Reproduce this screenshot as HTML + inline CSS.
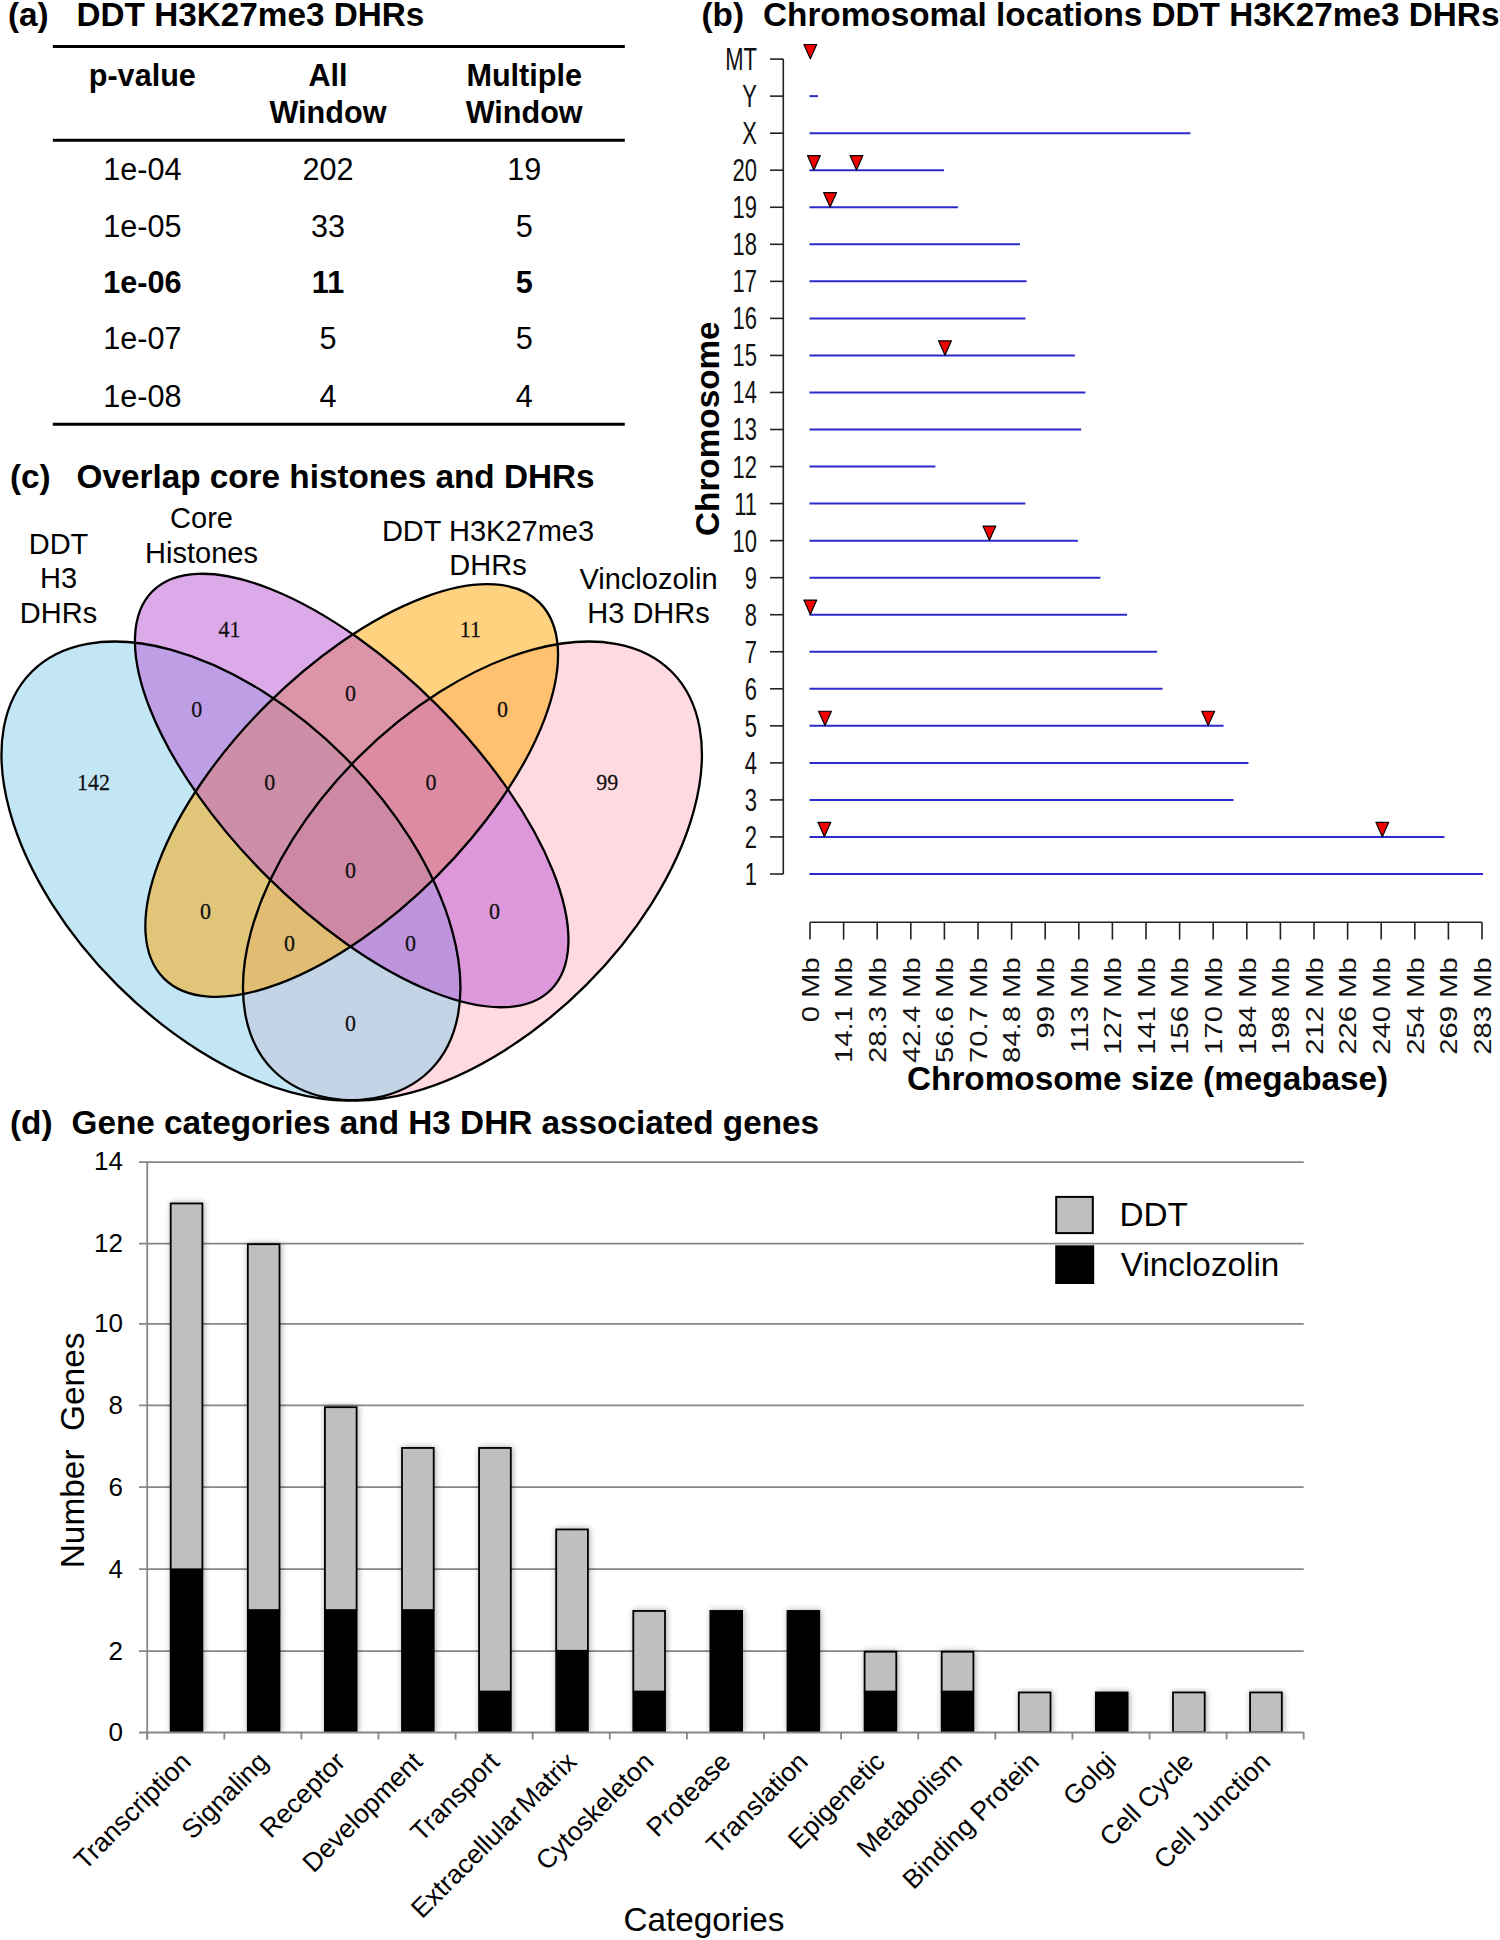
<!DOCTYPE html>
<html><head><meta charset="utf-8"><title>Figure</title>
<style>
html,body{margin:0;padding:0;background:#fff;}
body{width:1500px;height:1940px;overflow:hidden;font-family:"Liberation Sans",sans-serif;}
svg{display:block;}
text{font-family:"Liberation Sans",sans-serif;}
.serif{font-family:"Liberation Serif",serif;}
</style></head><body>
<svg width="1500" height="1940" viewBox="0 0 1500 1940">
<rect width="1500" height="1940" fill="#fff"/>

<text x="8" y="25.6" font-size="33.3" font-weight="bold">(a)</text>
<text x="76.5" y="25.6" font-size="33.3" font-weight="bold">DDT H3K27me3 DHRs</text>
<line x1="52.8" y1="46.5" x2="624.8" y2="46.5" stroke="#000" stroke-width="3"/>
<line x1="52.8" y1="140.25" x2="624.8" y2="140.25" stroke="#000" stroke-width="3"/>
<line x1="52.8" y1="424.25" x2="624.8" y2="424.25" stroke="#000" stroke-width="3"/>
<text x="142.3" y="86.3" font-size="30.6" font-weight="bold" text-anchor="middle">p-value</text>
<text x="328" y="86.3" font-size="30.6" font-weight="bold" text-anchor="middle">All</text>
<text x="328" y="122.7" font-size="30.6" font-weight="bold" text-anchor="middle">Window</text>
<text x="524.2" y="86.3" font-size="30.6" font-weight="bold" text-anchor="middle">Multiple</text>
<text x="524.2" y="122.7" font-size="30.6" font-weight="bold" text-anchor="middle">Window</text>
<text x="142.3" y="180.2" font-size="30.6" text-anchor="middle">1e-04</text>
<text x="328" y="180.2" font-size="30.6" text-anchor="middle">202</text>
<text x="524.2" y="180.2" font-size="30.6" text-anchor="middle">19</text>
<text x="142.3" y="237.3" font-size="30.6" text-anchor="middle">1e-05</text>
<text x="328" y="237.3" font-size="30.6" text-anchor="middle">33</text>
<text x="524.2" y="237.3" font-size="30.6" text-anchor="middle">5</text>
<text x="142.3" y="293.3" font-size="30.6" text-anchor="middle" font-weight="bold">1e-06</text>
<text x="328" y="293.3" font-size="30.6" text-anchor="middle" font-weight="bold">11</text>
<text x="524.2" y="293.3" font-size="30.6" text-anchor="middle" font-weight="bold">5</text>
<text x="142.3" y="349.3" font-size="30.6" text-anchor="middle">1e-07</text>
<text x="328" y="349.3" font-size="30.6" text-anchor="middle">5</text>
<text x="524.2" y="349.3" font-size="30.6" text-anchor="middle">5</text>
<text x="142.3" y="406.5" font-size="30.6" text-anchor="middle">1e-08</text>
<text x="328" y="406.5" font-size="30.6" text-anchor="middle">4</text>
<text x="524.2" y="406.5" font-size="30.6" text-anchor="middle">4</text>
<text x="701.5" y="26.1" font-size="33.3" font-weight="bold">(b)</text>
<text x="763" y="26.1" font-size="33.3" font-weight="bold">Chromosomal locations DDT H3K27me3 DHRs</text>
<line x1="783.3" y1="59.1" x2="783.3" y2="874.0" stroke="#222" stroke-width="1.6"/>
<line x1="770" y1="59.10" x2="783.3" y2="59.10" stroke="#222" stroke-width="1.6"/>
<text transform="translate(757,70.07) scale(1,1.45)" font-size="22" text-anchor="end" fill="#111">MT</text>
<line x1="770" y1="96.14" x2="783.3" y2="96.14" stroke="#222" stroke-width="1.6"/>
<text transform="translate(757,107.11) scale(1,1.45)" font-size="22" text-anchor="end" fill="#111">Y</text>
<line x1="770" y1="133.18" x2="783.3" y2="133.18" stroke="#222" stroke-width="1.6"/>
<text transform="translate(757,144.16) scale(1,1.45)" font-size="22" text-anchor="end" fill="#111">X</text>
<line x1="770" y1="170.22" x2="783.3" y2="170.22" stroke="#222" stroke-width="1.6"/>
<text transform="translate(757,181.20) scale(1,1.45)" font-size="22" text-anchor="end" fill="#111">20</text>
<line x1="770" y1="207.26" x2="783.3" y2="207.26" stroke="#222" stroke-width="1.6"/>
<text transform="translate(757,218.24) scale(1,1.45)" font-size="22" text-anchor="end" fill="#111">19</text>
<line x1="770" y1="244.30" x2="783.3" y2="244.30" stroke="#222" stroke-width="1.6"/>
<text transform="translate(757,255.28) scale(1,1.45)" font-size="22" text-anchor="end" fill="#111">18</text>
<line x1="770" y1="281.35" x2="783.3" y2="281.35" stroke="#222" stroke-width="1.6"/>
<text transform="translate(757,292.32) scale(1,1.45)" font-size="22" text-anchor="end" fill="#111">17</text>
<line x1="770" y1="318.39" x2="783.3" y2="318.39" stroke="#222" stroke-width="1.6"/>
<text transform="translate(757,329.36) scale(1,1.45)" font-size="22" text-anchor="end" fill="#111">16</text>
<line x1="770" y1="355.43" x2="783.3" y2="355.43" stroke="#222" stroke-width="1.6"/>
<text transform="translate(757,366.40) scale(1,1.45)" font-size="22" text-anchor="end" fill="#111">15</text>
<line x1="770" y1="392.47" x2="783.3" y2="392.47" stroke="#222" stroke-width="1.6"/>
<text transform="translate(757,403.44) scale(1,1.45)" font-size="22" text-anchor="end" fill="#111">14</text>
<line x1="770" y1="429.51" x2="783.3" y2="429.51" stroke="#222" stroke-width="1.6"/>
<text transform="translate(757,440.48) scale(1,1.45)" font-size="22" text-anchor="end" fill="#111">13</text>
<line x1="770" y1="466.55" x2="783.3" y2="466.55" stroke="#222" stroke-width="1.6"/>
<text transform="translate(757,477.52) scale(1,1.45)" font-size="22" text-anchor="end" fill="#111">12</text>
<line x1="770" y1="503.59" x2="783.3" y2="503.59" stroke="#222" stroke-width="1.6"/>
<text transform="translate(757,514.56) scale(1,1.45)" font-size="22" text-anchor="end" fill="#111">11</text>
<line x1="770" y1="540.63" x2="783.3" y2="540.63" stroke="#222" stroke-width="1.6"/>
<text transform="translate(757,551.61) scale(1,1.45)" font-size="22" text-anchor="end" fill="#111">10</text>
<line x1="770" y1="577.67" x2="783.3" y2="577.67" stroke="#222" stroke-width="1.6"/>
<text transform="translate(757,588.65) scale(1,1.45)" font-size="22" text-anchor="end" fill="#111">9</text>
<line x1="770" y1="614.71" x2="783.3" y2="614.71" stroke="#222" stroke-width="1.6"/>
<text transform="translate(757,625.69) scale(1,1.45)" font-size="22" text-anchor="end" fill="#111">8</text>
<line x1="770" y1="651.75" x2="783.3" y2="651.75" stroke="#222" stroke-width="1.6"/>
<text transform="translate(757,662.73) scale(1,1.45)" font-size="22" text-anchor="end" fill="#111">7</text>
<line x1="770" y1="688.80" x2="783.3" y2="688.80" stroke="#222" stroke-width="1.6"/>
<text transform="translate(757,699.77) scale(1,1.45)" font-size="22" text-anchor="end" fill="#111">6</text>
<line x1="770" y1="725.84" x2="783.3" y2="725.84" stroke="#222" stroke-width="1.6"/>
<text transform="translate(757,736.81) scale(1,1.45)" font-size="22" text-anchor="end" fill="#111">5</text>
<line x1="770" y1="762.88" x2="783.3" y2="762.88" stroke="#222" stroke-width="1.6"/>
<text transform="translate(757,773.85) scale(1,1.45)" font-size="22" text-anchor="end" fill="#111">4</text>
<line x1="770" y1="799.92" x2="783.3" y2="799.92" stroke="#222" stroke-width="1.6"/>
<text transform="translate(757,810.89) scale(1,1.45)" font-size="22" text-anchor="end" fill="#111">3</text>
<line x1="770" y1="836.96" x2="783.3" y2="836.96" stroke="#222" stroke-width="1.6"/>
<text transform="translate(757,847.93) scale(1,1.45)" font-size="22" text-anchor="end" fill="#111">2</text>
<line x1="770" y1="874.00" x2="783.3" y2="874.00" stroke="#222" stroke-width="1.6"/>
<text transform="translate(757,884.97) scale(1,1.45)" font-size="22" text-anchor="end" fill="#111">1</text>
<line x1="809.5" y1="96.14" x2="818" y2="96.14" stroke="#2b2bcc" stroke-width="2"/>
<line x1="809.5" y1="133.18" x2="1190.4" y2="133.18" stroke="#2b2bcc" stroke-width="2"/>
<line x1="809.5" y1="170.22" x2="944.1" y2="170.22" stroke="#2b2bcc" stroke-width="2"/>
<line x1="809.5" y1="207.26" x2="957.9" y2="207.26" stroke="#2b2bcc" stroke-width="2"/>
<line x1="809.5" y1="244.30" x2="1020" y2="244.30" stroke="#2b2bcc" stroke-width="2"/>
<line x1="809.5" y1="281.35" x2="1026.6" y2="281.35" stroke="#2b2bcc" stroke-width="2"/>
<line x1="809.5" y1="318.39" x2="1025.4" y2="318.39" stroke="#2b2bcc" stroke-width="2"/>
<line x1="809.5" y1="355.43" x2="1074.9" y2="355.43" stroke="#2b2bcc" stroke-width="2"/>
<line x1="809.5" y1="392.47" x2="1085.4" y2="392.47" stroke="#2b2bcc" stroke-width="2"/>
<line x1="809.5" y1="429.51" x2="1081.2" y2="429.51" stroke="#2b2bcc" stroke-width="2"/>
<line x1="809.5" y1="466.55" x2="935.4" y2="466.55" stroke="#2b2bcc" stroke-width="2"/>
<line x1="809.5" y1="503.59" x2="1025.4" y2="503.59" stroke="#2b2bcc" stroke-width="2"/>
<line x1="809.5" y1="540.63" x2="1077.9" y2="540.63" stroke="#2b2bcc" stroke-width="2"/>
<line x1="809.5" y1="577.67" x2="1100.4" y2="577.67" stroke="#2b2bcc" stroke-width="2"/>
<line x1="809.5" y1="614.71" x2="1127.1" y2="614.71" stroke="#2b2bcc" stroke-width="2"/>
<line x1="809.5" y1="651.75" x2="1157.1" y2="651.75" stroke="#2b2bcc" stroke-width="2"/>
<line x1="809.5" y1="688.80" x2="1162.5" y2="688.80" stroke="#2b2bcc" stroke-width="2"/>
<line x1="809.5" y1="725.84" x2="1223.6" y2="725.84" stroke="#2b2bcc" stroke-width="2"/>
<line x1="809.5" y1="762.88" x2="1248.5" y2="762.88" stroke="#2b2bcc" stroke-width="2"/>
<line x1="809.5" y1="799.92" x2="1233.5" y2="799.92" stroke="#2b2bcc" stroke-width="2"/>
<line x1="809.5" y1="836.96" x2="1444.5" y2="836.96" stroke="#2b2bcc" stroke-width="2"/>
<line x1="809.5" y1="874.00" x2="1483" y2="874.00" stroke="#2b2bcc" stroke-width="2"/>
<path d="M803.90,44.50 L816.70,44.50 L810.30,58.80 Z" fill="#f40000" stroke="#000" stroke-width="1.2" stroke-linejoin="round"/>
<path d="M807.50,155.62 L820.30,155.62 L813.90,169.92 Z" fill="#f40000" stroke="#000" stroke-width="1.2" stroke-linejoin="round"/>
<path d="M850.10,155.62 L862.90,155.62 L856.50,169.92 Z" fill="#f40000" stroke="#000" stroke-width="1.2" stroke-linejoin="round"/>
<path d="M823.70,192.66 L836.50,192.66 L830.10,206.96 Z" fill="#f40000" stroke="#000" stroke-width="1.2" stroke-linejoin="round"/>
<path d="M938.60,340.83 L951.40,340.83 L945.00,355.13 Z" fill="#f40000" stroke="#000" stroke-width="1.2" stroke-linejoin="round"/>
<path d="M983.00,526.03 L995.80,526.03 L989.40,540.33 Z" fill="#f40000" stroke="#000" stroke-width="1.2" stroke-linejoin="round"/>
<path d="M803.90,600.11 L816.70,600.11 L810.30,614.41 Z" fill="#f40000" stroke="#000" stroke-width="1.2" stroke-linejoin="round"/>
<path d="M818.60,711.24 L831.40,711.24 L825.00,725.54 Z" fill="#f40000" stroke="#000" stroke-width="1.2" stroke-linejoin="round"/>
<path d="M1201.80,711.24 L1214.60,711.24 L1208.20,725.54 Z" fill="#f40000" stroke="#000" stroke-width="1.2" stroke-linejoin="round"/>
<path d="M818.00,822.36 L830.80,822.36 L824.40,836.66 Z" fill="#f40000" stroke="#000" stroke-width="1.2" stroke-linejoin="round"/>
<path d="M1375.90,822.36 L1388.70,822.36 L1382.30,836.66 Z" fill="#f40000" stroke="#000" stroke-width="1.2" stroke-linejoin="round"/>
<line x1="810.0" y1="922.2" x2="1482.0" y2="922.2" stroke="#222" stroke-width="1.6"/>
<line x1="810.00" y1="922.2" x2="810.00" y2="939.6" stroke="#222" stroke-width="1.6"/>
<text transform="translate(818.85,957.3) scale(1,1.25) rotate(-90)" font-size="23.4" text-anchor="end" fill="#111">0 Mb</text>
<line x1="843.60" y1="922.2" x2="843.60" y2="939.6" stroke="#222" stroke-width="1.6"/>
<text transform="translate(852.45,957.3) scale(1,1.25) rotate(-90)" font-size="23.4" text-anchor="end" fill="#111">14.1 Mb</text>
<line x1="877.20" y1="922.2" x2="877.20" y2="939.6" stroke="#222" stroke-width="1.6"/>
<text transform="translate(886.05,957.3) scale(1,1.25) rotate(-90)" font-size="23.4" text-anchor="end" fill="#111">28.3 Mb</text>
<line x1="910.80" y1="922.2" x2="910.80" y2="939.6" stroke="#222" stroke-width="1.6"/>
<text transform="translate(919.65,957.3) scale(1,1.25) rotate(-90)" font-size="23.4" text-anchor="end" fill="#111">42.4 Mb</text>
<line x1="944.40" y1="922.2" x2="944.40" y2="939.6" stroke="#222" stroke-width="1.6"/>
<text transform="translate(953.25,957.3) scale(1,1.25) rotate(-90)" font-size="23.4" text-anchor="end" fill="#111">56.6 Mb</text>
<line x1="978.00" y1="922.2" x2="978.00" y2="939.6" stroke="#222" stroke-width="1.6"/>
<text transform="translate(986.85,957.3) scale(1,1.25) rotate(-90)" font-size="23.4" text-anchor="end" fill="#111">70.7 Mb</text>
<line x1="1011.60" y1="922.2" x2="1011.60" y2="939.6" stroke="#222" stroke-width="1.6"/>
<text transform="translate(1020.45,957.3) scale(1,1.25) rotate(-90)" font-size="23.4" text-anchor="end" fill="#111">84.8 Mb</text>
<line x1="1045.20" y1="922.2" x2="1045.20" y2="939.6" stroke="#222" stroke-width="1.6"/>
<text transform="translate(1054.05,957.3) scale(1,1.25) rotate(-90)" font-size="23.4" text-anchor="end" fill="#111">99 Mb</text>
<line x1="1078.80" y1="922.2" x2="1078.80" y2="939.6" stroke="#222" stroke-width="1.6"/>
<text transform="translate(1087.65,957.3) scale(1,1.25) rotate(-90)" font-size="23.4" text-anchor="end" fill="#111">113 Mb</text>
<line x1="1112.40" y1="922.2" x2="1112.40" y2="939.6" stroke="#222" stroke-width="1.6"/>
<text transform="translate(1121.25,957.3) scale(1,1.25) rotate(-90)" font-size="23.4" text-anchor="end" fill="#111">127 Mb</text>
<line x1="1146.00" y1="922.2" x2="1146.00" y2="939.6" stroke="#222" stroke-width="1.6"/>
<text transform="translate(1154.85,957.3) scale(1,1.25) rotate(-90)" font-size="23.4" text-anchor="end" fill="#111">141 Mb</text>
<line x1="1179.60" y1="922.2" x2="1179.60" y2="939.6" stroke="#222" stroke-width="1.6"/>
<text transform="translate(1188.45,957.3) scale(1,1.25) rotate(-90)" font-size="23.4" text-anchor="end" fill="#111">156 Mb</text>
<line x1="1213.20" y1="922.2" x2="1213.20" y2="939.6" stroke="#222" stroke-width="1.6"/>
<text transform="translate(1222.05,957.3) scale(1,1.25) rotate(-90)" font-size="23.4" text-anchor="end" fill="#111">170 Mb</text>
<line x1="1246.80" y1="922.2" x2="1246.80" y2="939.6" stroke="#222" stroke-width="1.6"/>
<text transform="translate(1255.65,957.3) scale(1,1.25) rotate(-90)" font-size="23.4" text-anchor="end" fill="#111">184 Mb</text>
<line x1="1280.40" y1="922.2" x2="1280.40" y2="939.6" stroke="#222" stroke-width="1.6"/>
<text transform="translate(1289.25,957.3) scale(1,1.25) rotate(-90)" font-size="23.4" text-anchor="end" fill="#111">198 Mb</text>
<line x1="1314.00" y1="922.2" x2="1314.00" y2="939.6" stroke="#222" stroke-width="1.6"/>
<text transform="translate(1322.85,957.3) scale(1,1.25) rotate(-90)" font-size="23.4" text-anchor="end" fill="#111">212 Mb</text>
<line x1="1347.60" y1="922.2" x2="1347.60" y2="939.6" stroke="#222" stroke-width="1.6"/>
<text transform="translate(1356.45,957.3) scale(1,1.25) rotate(-90)" font-size="23.4" text-anchor="end" fill="#111">226 Mb</text>
<line x1="1381.20" y1="922.2" x2="1381.20" y2="939.6" stroke="#222" stroke-width="1.6"/>
<text transform="translate(1390.05,957.3) scale(1,1.25) rotate(-90)" font-size="23.4" text-anchor="end" fill="#111">240 Mb</text>
<line x1="1414.80" y1="922.2" x2="1414.80" y2="939.6" stroke="#222" stroke-width="1.6"/>
<text transform="translate(1423.65,957.3) scale(1,1.25) rotate(-90)" font-size="23.4" text-anchor="end" fill="#111">254 Mb</text>
<line x1="1448.40" y1="922.2" x2="1448.40" y2="939.6" stroke="#222" stroke-width="1.6"/>
<text transform="translate(1457.25,957.3) scale(1,1.25) rotate(-90)" font-size="23.4" text-anchor="end" fill="#111">269 Mb</text>
<line x1="1482.00" y1="922.2" x2="1482.00" y2="939.6" stroke="#222" stroke-width="1.6"/>
<text transform="translate(1490.85,957.3) scale(1,1.25) rotate(-90)" font-size="23.4" text-anchor="end" fill="#111">283 Mb</text>
<text transform="translate(719,428.7) rotate(-90)" font-size="33.3" font-weight="bold" text-anchor="middle">Chromosome</text>
<text x="1147.6" y="1089.7" font-size="33.3" font-weight="bold" text-anchor="middle">Chromosome size (megabase)</text>
<text x="10" y="488.2" font-size="33.3" font-weight="bold">(c)</text>
<text x="76.5" y="488.2" font-size="33.3" font-weight="bold">Overlap core histones and DHRs</text>
<ellipse cx="472.45" cy="871.00" rx="281.75" ry="161.00" transform="rotate(-45 472.45 871.00)" fill="rgb(255,182,193)" fill-opacity="0.5"/>
<ellipse cx="230.95" cy="871.00" rx="281.75" ry="161.00" transform="rotate(45 230.95 871.00)" fill="rgb(135,206,235)" fill-opacity="0.5"/>
<ellipse cx="351.70" cy="790.50" rx="265.65" ry="120.75" transform="rotate(-45 351.70 790.50)" fill="rgb(255,165,0)" fill-opacity="0.5"/>
<ellipse cx="351.70" cy="790.50" rx="281.75" ry="120.75" transform="rotate(45 351.70 790.50)" fill="rgb(186,85,211)" fill-opacity="0.5"/>
<ellipse cx="472.45" cy="871.00" rx="281.75" ry="161.00" transform="rotate(-45 472.45 871.00)" fill="none" stroke="#000" stroke-width="2.3"/>
<ellipse cx="230.95" cy="871.00" rx="281.75" ry="161.00" transform="rotate(45 230.95 871.00)" fill="none" stroke="#000" stroke-width="2.3"/>
<ellipse cx="351.70" cy="790.50" rx="265.65" ry="120.75" transform="rotate(-45 351.70 790.50)" fill="none" stroke="#000" stroke-width="2.3"/>
<ellipse cx="351.70" cy="790.50" rx="281.75" ry="120.75" transform="rotate(45 351.70 790.50)" fill="none" stroke="#000" stroke-width="2.3"/>
<text class="serif" transform="translate(93.6,790.2) scale(1,1.08)" font-size="22" text-anchor="middle" fill="#111" stroke="#111" stroke-width="0.25">142</text>
<text class="serif" transform="translate(229.5,636.6) scale(1,1.08)" font-size="22" text-anchor="middle" fill="#111" stroke="#111" stroke-width="0.25">41</text>
<text class="serif" transform="translate(470.4,636.6) scale(1,1.08)" font-size="22" text-anchor="middle" fill="#111" stroke="#111" stroke-width="0.25">11</text>
<text class="serif" transform="translate(607.2,790.2) scale(1,1.08)" font-size="22" text-anchor="middle" fill="#111" stroke="#111" stroke-width="0.25">99</text>
<text class="serif" transform="translate(196.8,717.3) scale(1,1.08)" font-size="22" text-anchor="middle" fill="#111" stroke="#111" stroke-width="0.25">0</text>
<text class="serif" transform="translate(350.4,701.4) scale(1,1.08)" font-size="22" text-anchor="middle" fill="#111" stroke="#111" stroke-width="0.25">0</text>
<text class="serif" transform="translate(502.6,717.3) scale(1,1.08)" font-size="22" text-anchor="middle" fill="#111" stroke="#111" stroke-width="0.25">0</text>
<text class="serif" transform="translate(269.8,790.2) scale(1,1.08)" font-size="22" text-anchor="middle" fill="#111" stroke="#111" stroke-width="0.25">0</text>
<text class="serif" transform="translate(431.1,790.2) scale(1,1.08)" font-size="22" text-anchor="middle" fill="#111" stroke="#111" stroke-width="0.25">0</text>
<text class="serif" transform="translate(350.4,878.1) scale(1,1.08)" font-size="22" text-anchor="middle" fill="#111" stroke="#111" stroke-width="0.25">0</text>
<text class="serif" transform="translate(205.5,918.9) scale(1,1.08)" font-size="22" text-anchor="middle" fill="#111" stroke="#111" stroke-width="0.25">0</text>
<text class="serif" transform="translate(289.5,951.1) scale(1,1.08)" font-size="22" text-anchor="middle" fill="#111" stroke="#111" stroke-width="0.25">0</text>
<text class="serif" transform="translate(410.4,951.1) scale(1,1.08)" font-size="22" text-anchor="middle" fill="#111" stroke="#111" stroke-width="0.25">0</text>
<text class="serif" transform="translate(494.5,918.9) scale(1,1.08)" font-size="22" text-anchor="middle" fill="#111" stroke="#111" stroke-width="0.25">0</text>
<text class="serif" transform="translate(350.4,1031.2) scale(1,1.08)" font-size="22" text-anchor="middle" fill="#111" stroke="#111" stroke-width="0.25">0</text>
<text x="58.5" y="554.0" font-size="29" text-anchor="middle">DDT</text>
<text x="58.5" y="588.3" font-size="29" text-anchor="middle">H3</text>
<text x="58.5" y="622.6" font-size="29" text-anchor="middle">DHRs</text>
<text x="201.5" y="528.4" font-size="29" text-anchor="middle">Core</text>
<text x="201.5" y="562.7" font-size="29" text-anchor="middle">Histones</text>
<text x="488" y="540.5" font-size="29" text-anchor="middle">DDT H3K27me3</text>
<text x="488" y="574.8" font-size="29" text-anchor="middle">DHRs</text>
<text x="648.5" y="588.5" font-size="29" text-anchor="middle">Vinclozolin</text>
<text x="648.5" y="622.8" font-size="29" text-anchor="middle">H3 DHRs</text>
<text x="10" y="1134.2" font-size="33.3" font-weight="bold">(d)</text>
<text x="71.5" y="1134.2" font-size="33.3" font-weight="bold">Gene categories and H3 DHR associated genes</text>
<text x="123" y="1740.81" font-size="26" text-anchor="end">0</text>
<line x1="139" y1="1651.20" x2="1303.70" y2="1651.20" stroke="#868686" stroke-width="1.8"/>
<text x="123" y="1659.51" font-size="26" text-anchor="end">2</text>
<line x1="139" y1="1569.20" x2="1303.70" y2="1569.20" stroke="#868686" stroke-width="1.8"/>
<text x="123" y="1577.51" font-size="26" text-anchor="end">4</text>
<line x1="139" y1="1487.20" x2="1303.70" y2="1487.20" stroke="#868686" stroke-width="1.8"/>
<text x="123" y="1495.51" font-size="26" text-anchor="end">6</text>
<line x1="139" y1="1405.40" x2="1303.70" y2="1405.40" stroke="#868686" stroke-width="1.8"/>
<text x="123" y="1413.71" font-size="26" text-anchor="end">8</text>
<line x1="139" y1="1323.80" x2="1303.70" y2="1323.80" stroke="#868686" stroke-width="1.8"/>
<text x="123" y="1332.11" font-size="26" text-anchor="end">10</text>
<line x1="139" y1="1243.70" x2="1303.70" y2="1243.70" stroke="#868686" stroke-width="1.8"/>
<text x="123" y="1252.01" font-size="26" text-anchor="end">12</text>
<line x1="139" y1="1162.10" x2="1303.70" y2="1162.10" stroke="#868686" stroke-width="1.8"/>
<text x="123" y="1170.41" font-size="26" text-anchor="end">14</text>
<line x1="147.2" y1="1161.80" x2="147.2" y2="1739.5" stroke="#868686" stroke-width="1.8"/>
<line x1="147.20" y1="1732.3" x2="147.20" y2="1739.5" stroke="#868686" stroke-width="1.8"/>
<line x1="224.30" y1="1732.3" x2="224.30" y2="1739.5" stroke="#868686" stroke-width="1.8"/>
<line x1="301.40" y1="1732.3" x2="301.40" y2="1739.5" stroke="#868686" stroke-width="1.8"/>
<line x1="378.50" y1="1732.3" x2="378.50" y2="1739.5" stroke="#868686" stroke-width="1.8"/>
<line x1="455.60" y1="1732.3" x2="455.60" y2="1739.5" stroke="#868686" stroke-width="1.8"/>
<line x1="532.70" y1="1732.3" x2="532.70" y2="1739.5" stroke="#868686" stroke-width="1.8"/>
<line x1="609.80" y1="1732.3" x2="609.80" y2="1739.5" stroke="#868686" stroke-width="1.8"/>
<line x1="686.90" y1="1732.3" x2="686.90" y2="1739.5" stroke="#868686" stroke-width="1.8"/>
<line x1="764.00" y1="1732.3" x2="764.00" y2="1739.5" stroke="#868686" stroke-width="1.8"/>
<line x1="841.10" y1="1732.3" x2="841.10" y2="1739.5" stroke="#868686" stroke-width="1.8"/>
<line x1="918.20" y1="1732.3" x2="918.20" y2="1739.5" stroke="#868686" stroke-width="1.8"/>
<line x1="995.30" y1="1732.3" x2="995.30" y2="1739.5" stroke="#868686" stroke-width="1.8"/>
<line x1="1072.40" y1="1732.3" x2="1072.40" y2="1739.5" stroke="#868686" stroke-width="1.8"/>
<line x1="1149.50" y1="1732.3" x2="1149.50" y2="1739.5" stroke="#868686" stroke-width="1.8"/>
<line x1="1226.60" y1="1732.3" x2="1226.60" y2="1739.5" stroke="#868686" stroke-width="1.8"/>
<line x1="1303.70" y1="1732.3" x2="1303.70" y2="1739.5" stroke="#868686" stroke-width="1.8"/>
<defs><filter id="sh" x="-50%" y="-10%" width="200%" height="120%"><feGaussianBlur in="SourceAlpha" stdDeviation="3"/><feOffset dx="1" dy="0" result="b"/><feComponentTransfer><feFuncA type="linear" slope="0.35"/></feComponentTransfer><feMerge><feMergeNode/><feMergeNode in="SourceGraphic"/></feMerge></filter><clipPath id="abv"><rect x="0" y="1100" width="1500" height="632.30"/></clipPath></defs>
<g clip-path="url(#abv)"><g filter="url(#sh)"><rect x="169.80" y="1569.30" width="33.5" height="163.00" fill="#000"/><rect x="170.70" y="1203.45" width="31.7" height="365.85" fill="#bfbfbf" stroke="#000" stroke-width="1.8"/></g></g>
<g clip-path="url(#abv)"><g filter="url(#sh)"><rect x="246.90" y="1610.05" width="33.5" height="122.25" fill="#000"/><rect x="247.80" y="1244.20" width="31.7" height="365.85" fill="#bfbfbf" stroke="#000" stroke-width="1.8"/></g></g>
<g clip-path="url(#abv)"><g filter="url(#sh)"><rect x="324.00" y="1610.05" width="33.5" height="122.25" fill="#000"/><rect x="324.90" y="1407.20" width="31.7" height="202.85" fill="#bfbfbf" stroke="#000" stroke-width="1.8"/></g></g>
<g clip-path="url(#abv)"><g filter="url(#sh)"><rect x="401.10" y="1610.05" width="33.5" height="122.25" fill="#000"/><rect x="402.00" y="1447.95" width="31.7" height="162.10" fill="#bfbfbf" stroke="#000" stroke-width="1.8"/></g></g>
<g clip-path="url(#abv)"><g filter="url(#sh)"><rect x="478.20" y="1691.55" width="33.5" height="40.75" fill="#000"/><rect x="479.10" y="1447.95" width="31.7" height="243.60" fill="#bfbfbf" stroke="#000" stroke-width="1.8"/></g></g>
<g clip-path="url(#abv)"><g filter="url(#sh)"><rect x="555.30" y="1650.80" width="33.5" height="81.50" fill="#000"/><rect x="556.20" y="1529.45" width="31.7" height="121.35" fill="#bfbfbf" stroke="#000" stroke-width="1.8"/></g></g>
<g clip-path="url(#abv)"><g filter="url(#sh)"><rect x="632.40" y="1691.55" width="33.5" height="40.75" fill="#000"/><rect x="633.30" y="1610.95" width="31.7" height="80.60" fill="#bfbfbf" stroke="#000" stroke-width="1.8"/></g></g>
<g clip-path="url(#abv)"><g filter="url(#sh)"><rect x="709.50" y="1610.05" width="33.5" height="122.25" fill="#000"/></g></g>
<g clip-path="url(#abv)"><g filter="url(#sh)"><rect x="786.60" y="1610.05" width="33.5" height="122.25" fill="#000"/></g></g>
<g clip-path="url(#abv)"><g filter="url(#sh)"><rect x="863.70" y="1691.55" width="33.5" height="40.75" fill="#000"/><rect x="864.60" y="1651.70" width="31.7" height="39.85" fill="#bfbfbf" stroke="#000" stroke-width="1.8"/></g></g>
<g clip-path="url(#abv)"><g filter="url(#sh)"><rect x="940.80" y="1691.55" width="33.5" height="40.75" fill="#000"/><rect x="941.70" y="1651.70" width="31.7" height="39.85" fill="#bfbfbf" stroke="#000" stroke-width="1.8"/></g></g>
<g clip-path="url(#abv)"><g filter="url(#sh)"><rect x="1018.80" y="1692.45" width="31.7" height="39.85" fill="#bfbfbf" stroke="#000" stroke-width="1.8"/></g></g>
<g clip-path="url(#abv)"><g filter="url(#sh)"><rect x="1095.00" y="1691.55" width="33.5" height="40.75" fill="#000"/></g></g>
<g clip-path="url(#abv)"><g filter="url(#sh)"><rect x="1173.00" y="1692.45" width="31.7" height="39.85" fill="#bfbfbf" stroke="#000" stroke-width="1.8"/></g></g>
<g clip-path="url(#abv)"><g filter="url(#sh)"><rect x="1250.10" y="1692.45" width="31.7" height="39.85" fill="#bfbfbf" stroke="#000" stroke-width="1.8"/></g></g>
<line x1="139" y1="1732.50" x2="1303.70" y2="1732.50" stroke="#868686" stroke-width="1.8"/>
<text transform="translate(192.55,1763.3) rotate(-45)" font-size="26.5" text-anchor="end">Transcription</text>
<text transform="translate(269.65,1763.3) rotate(-45)" font-size="26.5" text-anchor="end">Signaling</text>
<text transform="translate(346.75,1763.3) rotate(-45)" font-size="26.5" text-anchor="end">Receptor</text>
<text transform="translate(423.85,1763.3) rotate(-45)" font-size="26.5" text-anchor="end">Development</text>
<text transform="translate(500.95,1763.3) rotate(-45)" font-size="26.5" text-anchor="end">Transport</text>
<text transform="translate(578.05,1763.3) rotate(-45)" font-size="26.5" text-anchor="end" word-spacing="-4.5">Extracellular Matrix</text>
<text transform="translate(655.15,1763.3) rotate(-45)" font-size="26.5" text-anchor="end">Cytoskeleton</text>
<text transform="translate(732.25,1763.3) rotate(-45)" font-size="26.5" text-anchor="end">Protease</text>
<text transform="translate(809.35,1763.3) rotate(-45)" font-size="26.5" text-anchor="end">Translation</text>
<text transform="translate(886.45,1763.3) rotate(-45)" font-size="26.5" text-anchor="end">Epigenetic</text>
<text transform="translate(963.55,1763.3) rotate(-45)" font-size="26.5" text-anchor="end">Metabolism</text>
<text transform="translate(1040.65,1763.3) rotate(-45)" font-size="26.5" text-anchor="end">Binding Protein</text>
<text transform="translate(1117.75,1763.3) rotate(-45)" font-size="26.5" text-anchor="end">Golgi</text>
<text transform="translate(1194.85,1763.3) rotate(-45)" font-size="26.5" text-anchor="end">Cell Cycle</text>
<text transform="translate(1271.95,1763.3) rotate(-45)" font-size="26.5" text-anchor="end">Cell Junction</text>
<text transform="translate(83.7,1450.4) rotate(-90)" font-size="33.4" text-anchor="middle" xml:space="preserve">Number  Genes</text>
<text x="704" y="1931" font-size="33.3" text-anchor="middle">Categories</text>
<rect x="1056.2" y="1196.9" width="36.6" height="36.2" fill="#bfbfbf" stroke="#000" stroke-width="2"/>
<rect x="1055.2" y="1245.3" width="39" height="38.7" fill="#000"/>
<text x="1119.5" y="1225.7" font-size="33.3">DDT</text>
<text x="1120.8" y="1276.1" font-size="33.3">Vinclozolin</text>
</svg></body></html>
